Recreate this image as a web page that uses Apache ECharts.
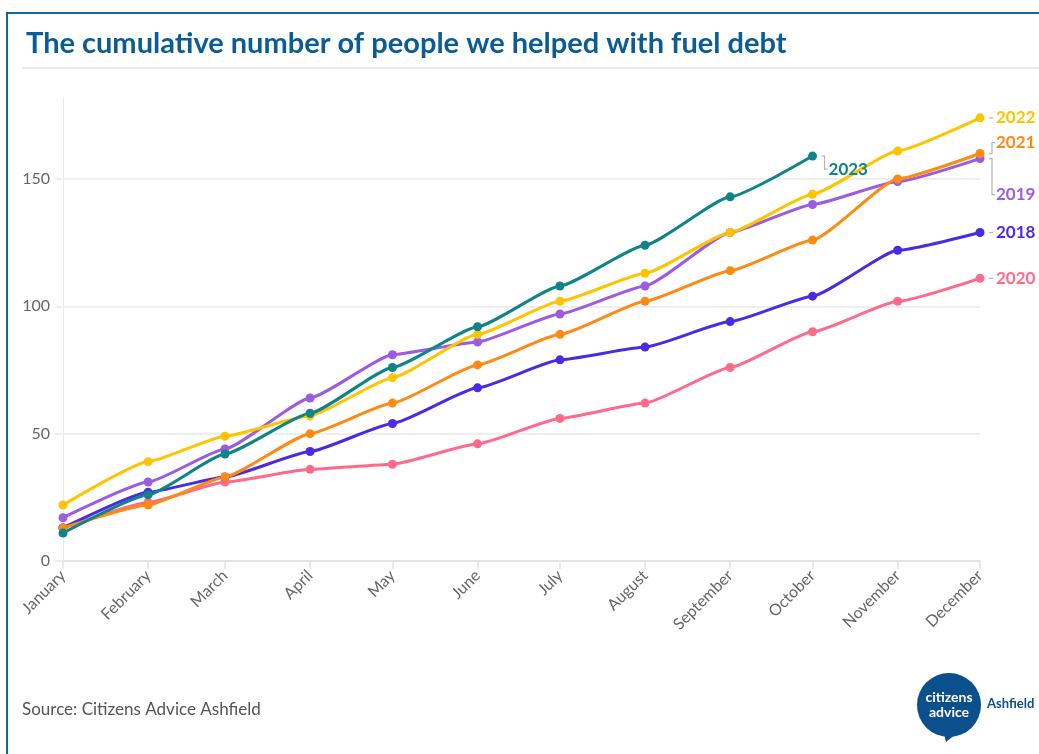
<!DOCTYPE html>
<html>
<head>
<meta charset="utf-8">
<script src="https://cdn.jsdelivr.net/npm/echarts@6/dist/echarts.min.js"></script>
<style>
  html, body { margin: 0; padding: 0; background: #ffffff; }
  #chart { width: 1039px; height: 754px; }
</style>
</head>
<body>
<div id="chart"></div>
<script>
// Month categories (first day of each month placed on a day-based axis)
const months = ['January', 'February', 'March', 'April', 'May', 'June',
  'July', 'August', 'September', 'October', 'November', 'December'];

// Cumulative number of people helped with fuel debt, by year
const years = ['2020', '2018', '2019', '2022', '2021', '2023'];
const values2018 = [13, 27, 33, 43, 54, 68, 79, 84, 94, 104, 122, 129];
const values2019 = [17, 31, 44, 64, 81, 86, 97, 108, 129, 140, 149, 158];
const values2020 = [13, 23, 31, 36, 38, 46, 56, 62, 76, 90, 102, 111];
const values2021 = [13, 22, 33, 50, 62, 77, 89, 102, 114, 126, 150, 160];
const values2022 = [22, 39, 49, 57, 72, 89, 102, 113, 129, 144, 161, 174];
const values2023 = [11, 26, 42, 58, 76, 92, 108, 124, 143, 159];

// Y axis tick labels
const yTicks = [0, 50, 100, 150];

const seriesValues = {
  '2018': values2018, '2019': values2019, '2020': values2020,
  '2021': values2021, '2022': values2022, '2023': values2023
};

const colors = {
  '2018': '#4a2ae3', '2019': '#9b5be2', '2020': '#ff6a8a',
  '2021': '#ff8a12', '2022': '#ffc400', '2023': '#0e8488'
};

// Label placement next to each line end (pixel shifts)
const labelLayout = {
  '2018': { dy: 0 },
  '2019': { dy: 36 },
  '2020': { dy: 0 },
  '2021': { dy: -11 },
  '2022': { dy: 0 },
  '2023': { dy: 13 }
};

// day offset of the first of each month, within a common non-leap year
const dayOffsets = months.map((m, i) =>
  Math.round((Date.UTC(2018, i, 1) - Date.UTC(2018, 0, 1)) / 864e5));

const FONT = 'Lato, "Noto Sans", sans-serif';
const GRID_COLOR = '#e9e9e9';

const chart = echarts.init(document.getElementById('chart'), null, { renderer: 'canvas' });

const series = years.map(y => ({
  name: y,
  type: 'line',
  data: seriesValues[y].map((v, i) => [dayOffsets[i], v]),
  smooth: 0.15,
  smoothMonotone: 'x',
  symbol: 'circle',
  symbolSize: 9,
  showSymbol: true,
  lineStyle: { width: 3, color: colors[y] },
  itemStyle: { color: colors[y] },
  emphasis: { disabled: true },
  animation: false
}));

chart.setOption({
  animation: false,
  backgroundColor: '#ffffff',
  title: {
    text: 'The cumulative number of people we helped with fuel debt',
    left: 21,
    top: 24,
    textStyle: { fontFamily: FONT, fontWeight: 'bold', fontSize: 29, color: '#0b5c95' }
  },
  grid: { left: 63, right: 59, top: 97.5, bottom: 193 },
  xAxis: {
    type: 'value',
    min: 0,
    max: dayOffsets[dayOffsets.length - 1],
    axisLine: { show: true, lineStyle: { color: '#e4e4e4', width: 2 } },
    axisTick: { show: true, length: 8, customValues: dayOffsets, lineStyle: { color: '#e4e4e4', width: 1.5 } },
    axisLabel: {
      customValues: dayOffsets,
      formatter: v => months[dayOffsets.indexOf(v)] || '',
      rotate: 45,
      margin: 12,
      color: '#666666',
      fontFamily: FONT,
      fontSize: 16
    },
    splitLine: { show: false }
  },
  yAxis: {
    type: 'value',
    min: 0,
    max: 182,
    interval: 50,
    axisLine: { show: true, lineStyle: { color: GRID_COLOR, width: 1 } },
    axisTick: { show: true, length: 8, customValues: yTicks, lineStyle: { color: GRID_COLOR, width: 1.5 } },
    axisLabel: {
      customValues: yTicks,
      margin: 13,
      color: '#666666',
      fontFamily: FONT,
      fontSize: 16
    },
    splitLine: {
      show: true,
      lineStyle: { color: [GRID_COLOR, GRID_COLOR, GRID_COLOR, GRID_COLOR, 'rgba(0,0,0,0)'], width: 1.5 }
    }
  },
  series: series
});

// End-of-line labels with short connectors
const graphics = [];
years.forEach(y => {
  const vals = seriesValues[y];
  const last = vals.length - 1;
  const p = chart.convertToPixel({ gridIndex: 0 }, [dayOffsets[last], vals[last]]);
  const lay = labelLayout[y];
  const ly = p[1] + lay.dy;
  const bx = p[0] + 9;
  let pts;
  if (lay.dy === 0) {
    pts = [[bx, ly], [bx + 4, ly]];
  } else {
    pts = [[bx, p[1]], [bx + 3, p[1]], [bx + 3, ly], [bx + 6, ly]];
  }
  const tx = bx + 7;
  graphics.push({
    type: 'polyline',
    shape: { points: pts },
    style: { stroke: '#b5b5b5', lineWidth: 1.2, fill: null },
    silent: true,
    z: 10
  });
  graphics.push({
    type: 'text',
    x: tx,
    y: ly,
    style: {
      text: y,
      fill: colors[y],
      font: 'bold 17px ' + FONT,
      textVerticalAlign: 'middle',
      textAlign: 'left'
    },
    silent: true,
    z: 10
  });
});

// Frame, title rule, source line and logo
graphics.push(
  {
    type: 'rect',
    shape: { x: 7, y: 13, width: 1100, height: 800 },
    style: { fill: null, stroke: '#1565a0', lineWidth: 2 },
    silent: true, z: -1
  },
  {
    type: 'line',
    shape: { x1: 22, y1: 68, x2: 1039, y2: 68 },
    style: { stroke: '#e3e3e3', lineWidth: 1.5 },
    silent: true
  },
  {
    type: 'text',
    x: 22,
    y: 710,
    style: {
      text: 'Source: Citizens Advice Ashfield',
      fill: '#555555',
      font: '17px ' + FONT,
      textVerticalAlign: 'middle'
    },
    silent: true
  },
  {
    type: 'circle',
    shape: { cx: 949, cy: 705, r: 32 },
    style: { fill: '#0b4f8c' },
    silent: true
  },
  {
    type: 'polygon',
    shape: { points: [[944, 734], [956, 734], [946, 742]] },
    style: { fill: '#0b4f8c' },
    silent: true
  },
  {
    type: 'text',
    x: 949,
    y: 697,
    style: { text: 'citizens', fill: '#ffffff', font: 'bold 14px ' + FONT, textAlign: 'center', textVerticalAlign: 'middle' },
    silent: true
  },
  {
    type: 'text',
    x: 949,
    y: 712,
    style: { text: 'advice', fill: '#ffffff', font: 'bold 14px ' + FONT, textAlign: 'center', textVerticalAlign: 'middle' },
    silent: true
  },
  {
    type: 'text',
    x: 987,
    y: 704,
    style: { text: 'Ashfield', fill: '#0b4f8c', font: 'bold 13px ' + FONT, textAlign: 'left', textVerticalAlign: 'middle' },
    silent: true
  }
);

chart.setOption({ graphic: graphics });
</script>
</body>
</html>
